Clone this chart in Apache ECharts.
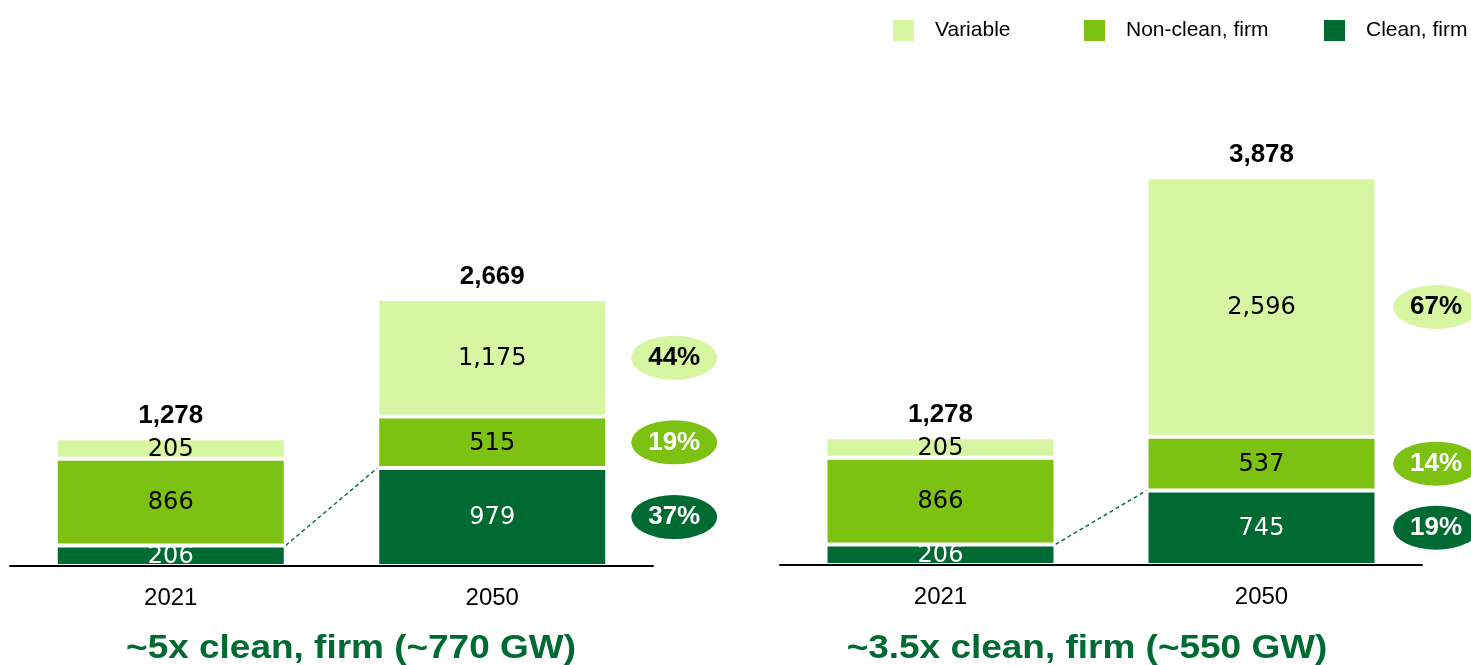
<!DOCTYPE html>
<html>
<head>
<meta charset="utf-8">
<script src="https://cdn.jsdelivr.net/npm/echarts@6/dist/echarts.min.js"></script>
<style>html,body{margin:0;padding:0;background:#fff}#c{width:1471px;height:665px}</style>
</head>
<body>
<div id="c"></div>
<script>
// ---- data ----
const years = ['2021', '2050'];
const seriesNames = ['Clean, firm', 'Non-clean, firm', 'Variable'];
const leftClean = [206, 979];
const leftNonClean = [866, 515];
const leftVariable = [205, 1175];
const leftTotals = [1278, 2669];
const rightClean = [206, 745];
const rightNonClean = [866, 537];
const rightVariable = [205, 2596];
const rightTotals = [1278, 3878];
const panelTitles = ['~5x clean, firm (~770 GW)', '~3.5x clean, firm (~550 GW)'];

// ---- style ----
const C_CLEAN = '#006A33', C_NON = '#7DC113', C_VAR = '#D6F6A2';
const SANS = 'Liberation Sans, Arial, sans-serif';
const LBL = 'DejaVu Sans, Verdana, sans-serif';
const grids = [
  {left: 10, width: 643, top: 168, height: 398},
  {left: 780, width: 642, top: 167, height: 398}
];
const BAR_W = 230;
const ellipseX = [1.033, 1.022];

const chart = echarts.init(document.getElementById('c'));

const panels = [
  {clean: leftClean, non: leftNonClean, vari: leftVariable, totals: leftTotals},
  {clean: rightClean, non: rightNonClean, vari: rightVariable, totals: rightTotals}
];

const fmt = v => v.toLocaleString('en-US');
const xAxes = [], yAxes = [], series = [];
panels.forEach((p, gi) => {
  xAxes.push({
    gridIndex: gi, type: 'category', data: years, z: 5,
    axisLine: {lineStyle: {color: '#000', width: 2}},
    axisTick: {show: false},
    axisLabel: {color: '#000', fontSize: 24, fontFamily: SANS, margin: 20}
  });
  xAxes.push({gridIndex: gi, type: 'value', min: 0, max: 1, show: false});
  yAxes.push({gridIndex: gi, type: 'value', min: 0, max: 3980, show: false, splitLine: {show: false}});
  const xi = gi * 2, yi = gi;
  const segs = [
    {name: seriesNames[0], data: p.clean, color: C_CLEAN, txt: '#fff'},
    {name: seriesNames[1], data: p.non, color: C_NON, txt: '#000'},
    {name: seriesNames[2], data: p.vari, color: C_VAR, txt: '#000'}
  ];
  segs.forEach(s => {
    series.push({
      type: 'bar', name: s.name, stack: 'p' + gi, xAxisIndex: xi, yAxisIndex: yi,
      data: s.data, barWidth: BAR_W, color: s.color,
      itemStyle: {color: s.color, borderColor: '#fff', borderWidth: 2},
      label: {show: true, position: 'inside', color: s.txt, fontSize: 24, fontFamily: LBL,
        offset: [0, 1], formatter: d => fmt(d.value)},
      emphasis: {disabled: true}, animation: false
    });
  });
  // totals
  series.push({
    type: 'scatter', xAxisIndex: xi, yAxisIndex: yi, data: p.totals, symbolSize: 1,
    itemStyle: {color: 'rgba(0,0,0,0)', opacity: 1}, silent: true, animation: false,
    label: {show: true, position: 'top', distance: 9, color: '#000', fontSize: 26, opacity: 1,
      fontWeight: 'bold', fontFamily: SANS, formatter: d => fmt(d.value)}
  });
  // percentage ellipses for 2050
  const tot = p.clean[1] + p.non[1] + p.vari[1];
  const vals = [p.clean[1], p.non[1], p.vari[1]];
  const mids = [vals[0] / 2, vals[0] + vals[1] / 2, vals[0] + vals[1] + vals[2] / 2];
  const cols = [C_CLEAN, C_NON, C_VAR];
  const tcols = ['#fff', '#fff', '#000'];
  series.push({
    type: 'scatter', xAxisIndex: xi + 1, yAxisIndex: yi, clip: false, silent: true, animation: false,
    symbol: 'circle', symbolSize: [86, 44], z: 3,
    data: mids.map((m, i) => ({
      value: [ellipseX[gi], m],
      itemStyle: {color: cols[i], opacity: 1},
      label: {show: true, position: 'inside', color: tcols[i], fontSize: 26, fontWeight: 'bold',
        fontFamily: SANS, opacity: 1, formatter: Math.round(vals[i] / tot * 100) + '%'}
    }))
  });
  // dashed connector
  const W = grids[gi].width;
  const half = BAR_W / 2 / W;
  series.push({
    type: 'line', xAxisIndex: xi + 1, yAxisIndex: yi, silent: true, animation: false,
    symbol: 'none', z: 1,
    lineStyle: {color: C_CLEAN, width: 1.4, type: [4, 3]},
    data: [[0.25 + half, p.clean[0]], [0.75 - half, p.clean[1]]]
  });
});

const legendPos = [891, 1082, 1322];
const legendOrder = [seriesNames[2], seriesNames[1], seriesNames[0]];
const legends = legendOrder.map((n, i) => ({
  data: [n], left: legendPos[i], top: 18, itemWidth: 23, itemHeight: 23, icon: 'rect',
  selectedMode: false, padding: 0,
  textStyle: {fontSize: 21, fontFamily: SANS, color: '#000', padding: [3, 0, 0, 15]}
}));

chart.setOption({
  animation: false,
  grid: grids,
  xAxis: xAxes,
  yAxis: yAxes,
  legend: legends,
  series: series,
  graphic: panelTitles.map((t, i) => ({
    type: 'text', x: [351, 1087][i], y: 649, scaleX: 1.12,
    style: {text: t, fill: C_CLEAN, font: 'bold 33px ' + SANS, textAlign: 'center', textVerticalAlign: 'middle'}
  }))
});
</script>
</body>
</html>
